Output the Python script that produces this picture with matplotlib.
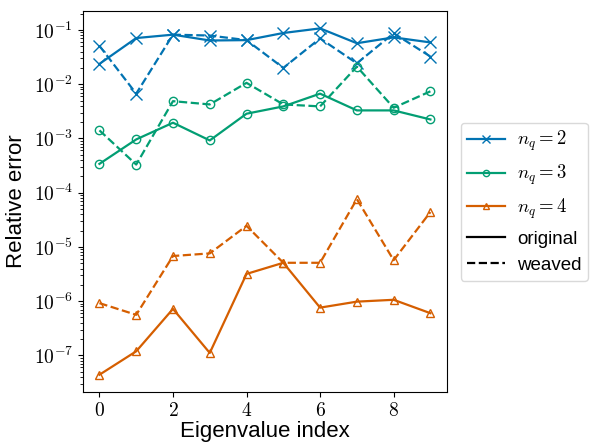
import numpy as np
import matplotlib
matplotlib.use("Agg")
import matplotlib.pyplot as plt
from matplotlib.lines import Line2D
from matplotlib.ticker import FuncFormatter, LogLocator

plt.rcParams['font.family'] = ['Liberation Sans', 'DejaVu Sans']
plt.rcParams['mathtext.fontset'] = 'cm'

idx = np.arange(10)

# n_q = 2
orig_2 = [0.0237, 0.071, 0.082, 0.064, 0.065, 0.088, 0.107, 0.057, 0.073, 0.059]
weav_2 = [0.051, 0.0067, 0.082, 0.079, 0.065, 0.020, 0.070, 0.0243, 0.087, 0.0324]
# n_q = 3
orig_3 = [3.4e-4, 9.6e-4, 1.95e-3, 9.2e-4, 2.86e-3, 3.9e-3, 6.7e-3, 3.29e-3, 3.29e-3, 2.24e-3]
weav_3 = [1.41e-3, 3.3e-4, 4.87e-3, 4.24e-3, 1.06e-2, 4.24e-3, 3.9e-3, 2.11e-2, 3.68e-3, 7.4e-3]
# n_q = 4
orig_4 = [4.4e-8, 1.19e-7, 7.2e-7, 1.11e-7, 3.18e-6, 5.1e-6, 7.6e-7, 9.8e-7, 1.06e-6, 6.0e-7]
weav_4 = [9.2e-7, 5.6e-7, 6.8e-6, 7.6e-6, 2.45e-5, 5.1e-6, 5.1e-6, 7.6e-5, 5.7e-6, 4.4e-5]

series = [
    ("$n_q = 2$", "#0173b2", "x", orig_2, weav_2),
    ("$n_q = 3$", "#029e73", "o", orig_3, weav_3),
    ("$n_q = 4$", "#d55e00", "^", orig_4, weav_4),
]

fig = plt.figure(figsize=(5.92, 4.43), dpi=100)
ax = fig.add_axes([0.140, 0.115, 0.615, 0.86])

handles = []
for label, col, mk, orig, weav in series:
    ms = 8 if mk == "x" else 6
    fc = col if mk == "x" else "none"
    for vals, ls in ((orig, "-"), (weav, "--")):
        ax.plot(idx, vals, ls=ls, color=col, lw=1.6, marker=mk, ms=ms,
                mfc=fc, mec=col, mew=1.0)
    handles.append(Line2D([], [], color=col, lw=1.6, marker=mk, ms=ms * 0.75,
                          mfc=fc, mec=col, mew=1.0, label=label))
handles.append(Line2D([], [], color="black", lw=1.6, ls="-", label="original"))
handles.append(Line2D([], [], color="black", lw=1.6, ls="--", label="weaved"))

ax.set_yscale("log")
ax.yaxis.set_major_locator(LogLocator(base=10, numticks=20))
ax.yaxis.set_major_formatter(FuncFormatter(lambda v, p: r"$10^{%d}$" % round(np.log10(v))))
ax.set_xticks([0, 2, 4, 6, 8])
ax.xaxis.set_major_formatter(FuncFormatter(lambda v, p: r"$%d$" % v))
ax.tick_params(labelsize=14)
ax.tick_params(axis="y", which="minor", length=2)

ax.set_xlabel("Eigenvalue index", fontsize=16, labelpad=1)
ax.set_ylabel("Relative error", fontsize=16, labelpad=5)

ax.legend(handles=handles, loc="center left", bbox_to_anchor=(1.012, 0.5),
          fontsize=13.5, frameon=True, edgecolor="#d0d0d0", labelspacing=0.5,
          handlelength=2.0, handletextpad=0.65, borderpad=0.35)

fig.savefig("out.png", dpi=100)
